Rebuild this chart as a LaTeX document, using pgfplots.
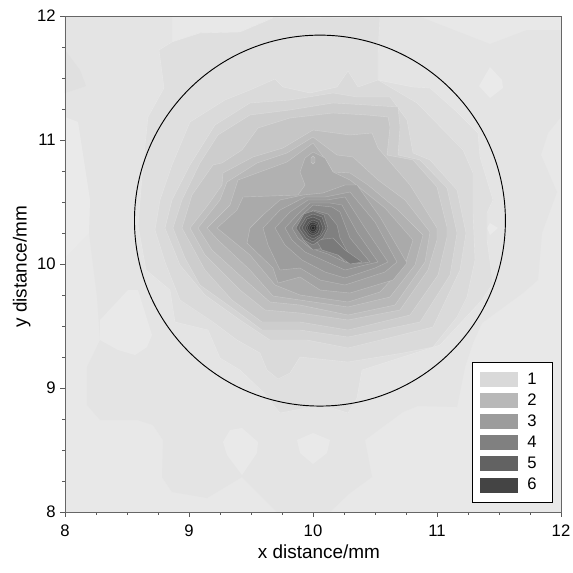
\documentclass[border=0pt]{standalone}
\usepackage{pgfplots}
\pgfplotsset{compat=1.18}
\usepackage{fontspec}
\setmainfont{Liberation Sans}
\newcommand\ring[2]{\addplot[forget plot,fill={rgb,255:red,#1;green,#1;blue,#1},draw=white,draw opacity=.28,line width=.3pt]
 table[row sep=\\,x expr=8+(\thisrowno{0}-65)/124,y expr=12-(\thisrowno{1}-16)/124]{#2} -- cycle;}
\newcommand\patchzone[2]{\addplot[forget plot,fill={rgb,255:red,#1;green,#1;blue,#1},draw=none]
 table[row sep=\\,x expr=8+(\thisrowno{0}-65)/124,y expr=12-(\thisrowno{1}-16)/124]{#2} -- cycle;}
\begin{document}
\begin{tikzpicture}
\path[use as bounding box] (-48.75pt,-45pt) rectangle (381pt,384pt);
\begin{axis}[
 scale only axis,width=372pt,height=372pt,
 xmin=8,xmax=12,ymin=8,ymax=12,
 xtick={8,9,10,11,12},ytick={8,9,10,11,12},
 minor x tick num=3,minor y tick num=3,
 tick align=outside,
 major tick length=3.5pt,minor tick length=2pt,
 tick style={color=black!65,line width=.6pt},
 x axis line style={color=black!35,line width=.8pt},
 y axis line style={color=black!60,line width=.7pt},
 xtick pos=bottom,ytick pos=left,
 axis on top,
 /pgf/number format/assume math mode=true,
 tick label style={font=\fontsize{12.5}{14}\selectfont},
 xticklabel style={yshift=-2.5pt},
 label style={font=\fontsize{14.2}{16}\selectfont},
 xlabel={x distance/mm},ylabel={y distance/mm},
 xlabel style={yshift=1pt,xshift=4.5pt},
 ylabel style={yshift=-2pt,xshift=-2pt},
 legend style={at={(axis cs:11.28,8.073)},anchor=south west,draw=black,line width=.6pt,
   fill=white,font=\fontsize{12.5}{14}\selectfont,inner xsep=6pt,inner ysep=6pt,
   row sep=1.7pt,/tikz/every odd column/.style={column sep=5pt}},
 legend cell align=left,
 area legend,
 legend image code/.code={\fill[#1,draw=none] (0pt,-5.6pt) rectangle (28.5pt,5.6pt);},
]
\patchzone{232}{65 16\\ 561 16\\ 561 512\\ 65 512\\}
% level 1
\patchzone{228}{65 16\\ 172 16\\ 172 42\\ 200 33\\ 240 32\\ 273 18\\ 273 16\\ 418 16\\ 490 44\\ 527 30\\ 561 30\\ 561 117\\ 548 133\\ 541 155\\ 557 192\\ 542 233\\ 538 280\\ 523 293\\ 482 323\\ 473 343\\ 465 367\\ 457 407\\ 418 406\\ 403 412\\ 365 440\\ 372 477\\ 350 493\\ 330 512\\ 277 512\\ 242 477\\ 207 498\\ 172 492\\ 162 477\\ 163 440\\ 153 425\\ 137 420\\ 100 420\\ 87 405\\ 87 367\\ 100 340\\ 97 297\\ 89 233\\ 90 200\\ 78 122\\ 65 117\\}
\patchzone{234}{65 117\\ 78 122\\ 90 200\\ 89 233\\ 65 258\\}
\patchzone{233}{100 340\\ 118 350\\ 135 355\\ 147 347\\ 152 335\\ 138 290\\ 128 290\\ 100 320\\}
\patchzone{224}{65 50\\ 80 70\\ 86 86\\ 65 93\\}
\patchzone{234}{490 67\\ 502 80\\ 503 88\\ 490 98\\ 479 86\\}
\patchzone{234}{490 223\\ 498 228\\ 490 235\\ 487 228\\}
\patchzone{233}{313 433\\ 330 440\\ 327 453\\ 313 464\\ 300 453\\ 297 440\\}
\patchzone{233}{242 428\\ 258 442\\ 257 453\\ 242 475\\ 227 455\\ 223 442\\ 230 430\\}
% bands
\ring{223}{172 42\\ 200 33\\ 240 32\\ 273 18\\ 380 17\\ 378 53\\ 378 80\\ 413 87\\ 430 88\\ 457 112\\ 478 133\\ 480 157\\ 493 200\\ 487 213\\ 487 240\\ 493 283\\ 482 300\\ 440 345\\ 362 370\\ 357 398\\ 348 413\\ 322 405\\ 280 413\\ 263 392\\ 240 370\\ 220 358\\ 208 330\\ 175 322\\ 170 290\\ 146 270\\ 138 225\\ 143 165\\ 148 117\\ 164 88\\ 159 50\\}
\ring{218}{250 90\\ 275 79\\ 283 87\\ 310 93\\ 337 87\\ 348 71\\ 358 87\\ 378 80\\ 417 103\\ 463 150\\ 473 173\\ 473 213\\ 475 260\\ 467 297\\ 457 317\\ 433 347\\ 403 353\\ 348 362\\ 300 357\\ 290 373\\ 278 379\\ 267 370\\ 260 353\\ 237 340\\ 213 322\\ 180 300\\ 165 262\\ 155 230\\ 160 200\\ 172 165\\ 190 122\\ 225 100\\}
\ring{212}{165 228\\ 172 200\\ 190 165\\ 215 125\\ 250 103\\ 290 100\\ 333 93\\ 357 97\\ 390 97\\ 407 120\\ 413 153\\ 430 160\\ 457 190\\ 466 233\\ 460 270\\ 433 327\\ 348 348\\ 307 340\\ 270 340\\ 240 320\\ 205 295\\ 180 265\\}
\ring{205}{173 228\\ 182 200\\ 200 163\\ 218 135\\ 250 115\\ 290 110\\ 333 103\\ 367 105\\ 398 107\\ 400 127\\ 398 155\\ 420 160\\ 447 188\\ 457 233\\ 450 275\\ 420 322\\ 348 337\\ 300 330\\ 262 330\\ 235 310\\ 200 285\\ 185 258\\}
\ring{198}{182 228\\ 192 195\\ 213 165\\ 222 163\\ 242 150\\ 258 128\\ 290 118\\ 333 113\\ 367 115\\ 388 117\\ 390 127\\ 387 155\\ 413 160\\ 437 187\\ 447 227\\ 447 237\\ 438 275\\ 410 315\\ 348 330\\ 300 322\\ 262 322\\ 232 300\\ 205 270\\}
\ring{191}{190 228\\ 208 205\\ 222 185\\ 223 173\\ 253 157\\ 283 148\\ 313 130\\ 350 135\\ 372 133\\ 378 148\\ 410 185\\ 437 228\\ 437 240\\ 428 270\\ 400 310\\ 348 320\\ 300 313\\ 265 310\\ 240 290\\ 205 255\\}
\ring{184}{198 228\\ 220 200\\ 227 182\\ 257 163\\ 287 153\\ 313 137\\ 337 155\\ 353 157\\ 378 180\\ 405 200\\ 430 232\\ 425 262\\ 395 305\\ 348 315\\ 300 305\\ 270 302\\ 245 280\\ 212 250\\}
\ring{177}{207 228\\ 230 205\\ 238 180\\ 287 162\\ 313 143\\ 328 163\\ 333 172\\ 350 173\\ 368 185\\ 398 210\\ 423 235\\ 415 265\\ 390 297\\ 348 307\\ 300 300\\ 273 296\\ 250 270\\ 218 240\\}
\ring{170}{217 228\\ 237 210\\ 243 197\\ 298 195\\ 305 185\\ 300 172\\ 305 158\\ 313 152\\ 325 158\\ 333 172\\ 350 180\\ 385 208\\ 413 240\\ 405 265\\ 380 292\\ 348 302\\ 300 295\\ 275 285\\ 250 255\\}
\ring{178}{311 158\\ 313 156\\ 315 158\\ 315 162\\ 313 164\\ 311 162\\}
\ring{163}{250 228\\ 263 215\\ 280 200\\ 303 195\\ 323 193\\ 345 185\\ 357 185\\ 380 217\\ 407 263\\ 393 280\\ 350 293\\ 320 290\\ 300 277\\ 278 283\\ 273 268\\ 247 243\\}
\ring{157}{263 228\\ 280 210\\ 305 197\\ 325 197\\ 350 192\\ 375 222\\ 397 262\\ 385 272\\ 345 285\\ 320 280\\ 300 268\\ 280 270\\ 268 245\\}
\ring{151}{275 228\\ 290 212\\ 308 200\\ 327 200\\ 345 197\\ 365 228\\ 388 262\\ 375 268\\ 345 278\\ 325 272\\ 302 260\\ 285 245\\}
\ring{145}{285 228\\ 297 215\\ 310 203\\ 330 203\\ 342 205\\ 357 232\\ 378 262\\ 365 265\\ 345 270\\ 327 262\\ 305 252\\ 292 240\\}
\ring{138}{292 228\\ 302 215\\ 313 205\\ 332 207\\ 340 212\\ 350 238\\ 370 262\\ 355 264\\ 345 262\\ 328 254\\ 310 248\\ 298 238\\}
\ring{128}{300 228\\ 307 218\\ 313 210\\ 328 214\\ 337 225\\ 340 238\\ 352 260\\ 345 262\\ 330 247\\ 313 250\\ 303 240\\}
\ring{122}{316 240\\ 333 238\\ 345 250\\ 362 262\\ 350 264\\ 338 255\\ 322 250\\}
\ring{112}{296 228\\ 304 214\\ 313 211\\ 324 215\\ 328 228\\ 323 238\\ 313 245\\ 304 240\\}
\ring{100}{299 228\\ 306 217\\ 313 214\\ 322 217\\ 326 228\\ 321 236\\ 313 242\\ 306 238\\}
\ring{90}{302 228\\ 307 219\\ 313 217\\ 320 220\\ 323 228\\ 320 235\\ 313 239\\ 308 236\\}
\ring{76}{305 228\\ 309 222\\ 313 220\\ 318 222\\ 320 228\\ 318 233\\ 313 236\\ 309 234\\}
\ring{62}{307 228\\ 310 223\\ 313 222\\ 317 224\\ 318 228\\ 316 232\\ 313 234\\ 310 232\\}
\ring{50}{309 228\\ 311 225\\ 313 224\\ 316 225\\ 317 228\\ 315 231\\ 313 232\\ 311 231\\}
\ring{40}{311 228\\ 312 226.5\\ 313 226\\ 314.5 226.5\\ 315 228\\ 314 229.5\\ 313 230\\ 312 229.5\\}
\draw[black,line width=.7pt] (axis cs:10.056,10.35) circle[radius=139.1pt];
\addlegendimage{fill={rgb,255:red,217;green,217;blue,217}}\addlegendentry{1\hspace*{4pt}}
\addlegendimage{fill={rgb,255:red,184;green,184;blue,184}}\addlegendentry{2\hspace*{4pt}}
\addlegendimage{fill={rgb,255:red,156;green,156;blue,156}}\addlegendentry{3\hspace*{4pt}}
\addlegendimage{fill={rgb,255:red,128;green,128;blue,128}}\addlegendentry{4\hspace*{4pt}}
\addlegendimage{fill={rgb,255:red,98;green,98;blue,98}}\addlegendentry{5\hspace*{4pt}}
\addlegendimage{fill={rgb,255:red,68;green,68;blue,68}}\addlegendentry{6\hspace*{4pt}}
\end{axis}
\end{tikzpicture}
\end{document}
